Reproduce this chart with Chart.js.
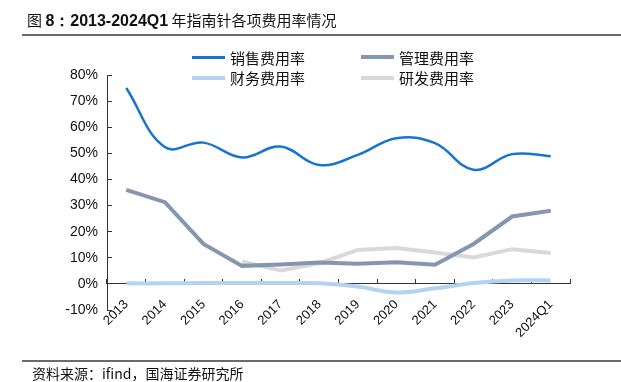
<!DOCTYPE html>
<html>
<head>
<meta charset="utf-8">
<script src="https://cdn.jsdelivr.net/npm/chart.js@4.4.1/dist/chart.umd.min.js"></script>
<style>
    html, body { margin: 0; padding: 0; background: #fff; }
    #wrap { position: relative; width: 621px; height: 382px; overflow: hidden; font-family: "Noto Sans CJK SC", sans-serif; color: #111; }
    #chart-fees { position: absolute; left: 0; top: 0; }
    .title { position: absolute; left: 27px; top: 9px; font-size: 15px; white-space: nowrap; line-height: 22px; }
    .title b { font-family: "Liberation Sans", Arial, sans-serif; font-weight: bold; font-size: 16px; }
    .rule { position: absolute; left: 22px; width: 599px; height: 2px; background: #6b6b6b; }
    .legend { position: absolute; left: 192px; top: 47px; display: grid; grid-template-columns: 169px 169px; grid-auto-rows: 20.5px; }
    .legend-item { display: flex; align-items: center; font-size: 15px; white-space: nowrap; }
    .legend-item .swatch { display: inline-block; width: 33px; margin-right: 5px; }
    .source { position: absolute; left: 32px; top: 364px; font-size: 14px; line-height: 18px; white-space: nowrap; }
</style>
</head>
<body>
<div id="wrap">
    <canvas id="chart-fees" width="621" height="382"></canvas>
    <div class="title">图 <b>8：2013-2024Q1</b> 年指南针各项费用率情况</div>
    <div class="rule" style="top: 34px;"></div>
    <div class="legend" id="legend"></div>
    <div class="rule" style="top: 360px; height: 1.5px;"></div>
    <div class="source">资料来源：ifind，国海证券研究所</div>
</div>
<script>
// Values (percent)
const categories = ['2013', '2014', '2015', '2016', '2017', '2018', '2019', '2020', '2021', '2022', '2023', '2024Q1'];
const salesRate   = [75.0, 52.4, 54.1, 48.4, 52.6, 45.5, 49.4, 55.8, 53.9, 43.7, 49.7, 48.9];
const adminRate   = [36.0, 31.3, 15.3, 6.9, 7.4, 8.2, 7.7, 8.3, 7.3, 15.3, 25.8, 28.0];
const financeRate = [0.2, 0.2, 0.3, 0.3, 0.3, 0.2, -1.0, -3.3, -1.7, 0.3, 1.3, 1.3];
const rdRate      = [null, null, null, 8.6, 5.1, 7.9, 13.0, 13.7, 12.0, 10.1, 13.3, 11.8];
const seriesNames = ['销售费用率', '管理费用率', '财务费用率', '研发费用率'];
const yTicks = { min: -10, max: 80, step: 10 };

Chart.defaults.font.family = '"Liberation Sans", Arial, sans-serif';
Chart.defaults.color = '#111';

const datasets = [
    { label: seriesNames[0], data: salesRate, borderColor: '#1a74cf', borderWidth: 2.5, tension: 0.4 },
    { label: seriesNames[1], data: adminRate, borderColor: '#8597b0', borderWidth: 4, tension: 0 },
    { label: seriesNames[2], data: financeRate, borderColor: '#b3d3f3', borderWidth: 4, tension: 0.4 },
    { label: seriesNames[3], data: rdRate, borderColor: '#d9d9d9', borderWidth: 4, tension: 0 },
].map(d => ({ ...d, pointRadius: 0, fill: false, spanGaps: false }));

const feesChart = new Chart(document.getElementById('chart-fees'), {
    type: 'line',
    data: { labels: categories, datasets },
    options: {
        responsive: false,
        animation: false,
        layout: { padding: { top: 75, left: 57, right: 51, bottom: 72 } },
        plugins: { legend: { display: false }, tooltip: { enabled: false } },
        scales: {
            // category axis sits on the 0% line, tick marks point up, labels hang low
            x: {
                type: 'category',
                position: { y: 0 },
                offset: true,
                grid: { offset: true, drawOnChartArea: false, tickLength: -5, color: '#333' },
                border: { color: '#333', width: 1 },
                ticks: {
                    autoSkip: false,
                    minRotation: 45,
                    maxRotation: 45,
                    padding: 18,
                    font: { size: 13 },
                },
            },
            y: {
                min: yTicks.min,
                max: yTicks.max,
                grid: { drawOnChartArea: false, tickLength: -5, color: '#333' },
                border: { color: '#333', width: 1 },
                ticks: {
                    stepSize: yTicks.step,
                    padding: 14,
                    font: { size: 14 },
                    callback: v => v + '%',
                },
                afterFit: s => { s.width = 50; },
            },
        },
    },
});

// Legend in two rows, built from the chart's own datasets
const legendEl = document.getElementById('legend');
feesChart.data.datasets.forEach(ds => {
    const item = document.createElement('div');
    item.className = 'legend-item';
    item.innerHTML = `<span class="swatch" style="height:${ds.borderWidth}px;background:${ds.borderColor}"></span><span>${ds.label}</span>`;
    legendEl.appendChild(item);
});
</script>
</body>
</html>
